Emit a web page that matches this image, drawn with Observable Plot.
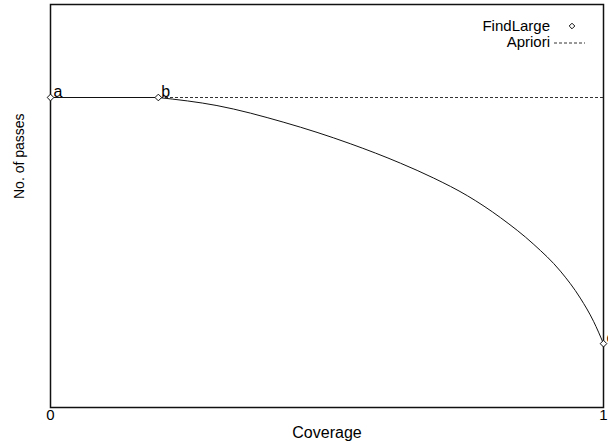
<!DOCTYPE html>
<html>
<head>
<meta charset="utf-8">
<script src="https://cdn.jsdelivr.net/npm/d3@7"></script>
<script src="https://cdn.jsdelivr.net/npm/@observablehq/plot@0.6"></script>
<style>
  html, body { margin: 0; padding: 0; background: #fff; }
</style>
</head>
<body>
<div id="chart"></div>
<script>
// FindLarge curve (coverage vs. number of passes, arbitrary units, Apriori = 1)
const flatX = [0, 0.195];
const flatY = [1.0, 1.0];
const curveX = [0.195, 0.301, 0.422, 0.542, 0.633, 0.693, 0.754, 0.814, 0.874, 0.922, 0.958, 0.982, 1.0];
const curveY = [1.0, 0.974, 0.920, 0.851, 0.788, 0.740, 0.683, 0.612, 0.526, 0.440, 0.353, 0.278, 0.206];
// labelled points
const pointLabels = ["a", "b", "c"];
const pointX = [0, 0.195, 1.0];
const pointY = [1.0, 1.0, 0.206];
// Apriori passes
const aprioriY = [1.0];
// axis ticks
const xTicks = [0, 1];
const xTickLabels = ["0", "1"];

const flat = flatX.map((x, i) => ({x, y: flatY[i]}));
const curve = curveX.map((x, i) => ({x, y: curveY[i]}));
const points = pointLabels.map((l, i) => ({l, x: pointX[i], y: pointY[i]}));

const font = "'Liberation Sans', Arial, Helvetica, sans-serif";

const plot = Plot.plot({
  width: 608,
  height: 443,
  marginLeft: 50,
  marginRight: 5,
  marginTop: 4,
  marginBottom: 36,
  style: {fontFamily: font, fontSize: "15px", color: "#000", background: "#fff"},
  x: {domain: [0, 1]},
  y: {domain: [0, 1.3]},
  marks: [
    Plot.frame({stroke: "#111", strokeWidth: 1.5}),
    Plot.axisX({ticks: xTicks, tickFormat: (d, i) => xTickLabels[i], tickSize: 0, tickPadding: 2, label: null, fontSize: 15}),
    Plot.axisY({ticks: [], label: null}),
    Plot.ruleY(aprioriY, {stroke: "#333", strokeWidth: 1, strokeDasharray: "3,2"}),
    Plot.line(flat, {x: "x", y: "y", stroke: "#111", strokeWidth: 1}),
    Plot.line(curve, {x: "x", y: "y", stroke: "#111", strokeWidth: 1, curve: "monotone-x"}),
    Plot.dot(points, {x: "x", y: "y", symbol: "diamond2", r: 3, stroke: "#111", fill: "#fff", strokeWidth: 1}),
    Plot.text(points, {x: "x", y: "y", text: "l", textAnchor: "start", lineAnchor: "bottom", dx: 3, dy: -1, fontSize: 16, fill: "#000"}),
    Plot.text(["Coverage"], {frameAnchor: "bottom", dy: 25, lineAnchor: "middle", fontSize: 16, fill: "#000"}),
    Plot.text(["No. of passes"], {frameAnchor: "left", dx: -31, dy: -7, rotate: -90, lineAnchor: "middle", fontSize: 14, fill: "#000"})
  ]
});

// legend inside top-right
const svg = d3.select(plot);
const lg = svg.append("g").attr("font-family", font).attr("font-size", 15).attr("fill", "#000");
lg.append("text").attr("x", 550).attr("y", 31).attr("text-anchor", "end").text("FindLarge");
lg.append("path").attr("d", d3.symbol(d3.symbolDiamond2, 20)()).attr("transform", "translate(572,26)")
  .attr("fill", "#fff").attr("stroke", "#111").attr("stroke-width", 1);
lg.append("text").attr("x", 550).attr("y", 47).attr("text-anchor", "end").text("Apriori");
lg.append("line").attr("x1", 554).attr("x2", 585).attr("y1", 43).attr("y2", 43)
  .attr("stroke", "#333").attr("stroke-width", 1).attr("stroke-dasharray", "3,2");

document.getElementById("chart").appendChild(plot);
</script>
</body>
</html>
